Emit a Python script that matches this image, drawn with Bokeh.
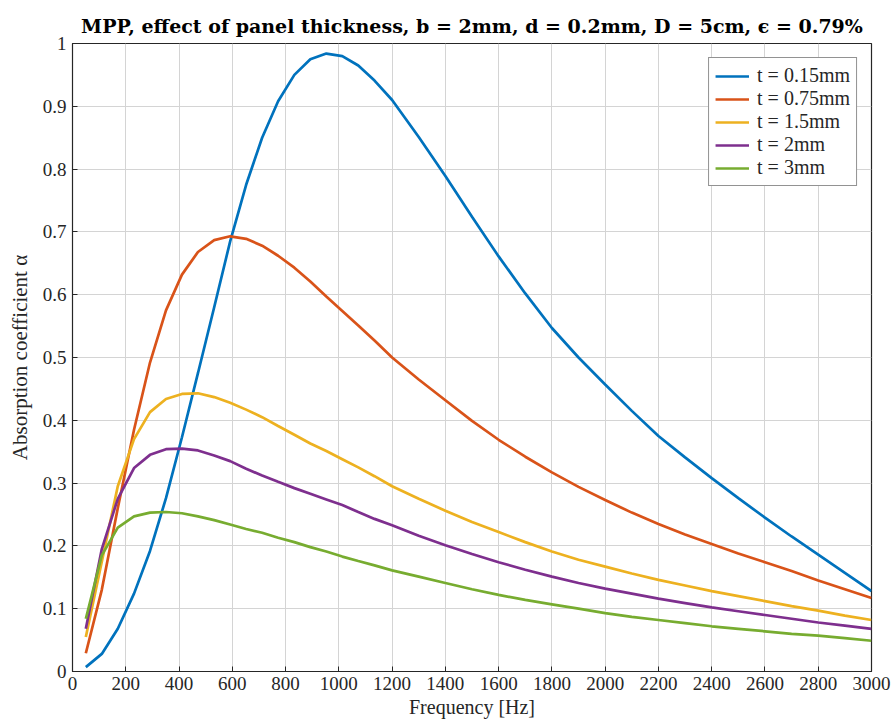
from bokeh.plotting import figure
from bokeh.models import Range1d, FixedTicker, Legend, LegendItem, LinearAxis
from bokeh.embed import file_html
from bokeh.resources import INLINE

freq = [50, 110, 170, 231, 291, 351, 411, 471, 532, 592, 652, 712, 772, 833, 893, 953,
        1013, 1073, 1134, 1200, 1300, 1400, 1500, 1600, 1700, 1800, 1900, 2000, 2100,
        2200, 2300, 2400, 2500, 2600, 2700, 2800, 2900, 3000]

alpha_015 = [0.007, 0.028, 0.068, 0.124, 0.192, 0.276, 0.373, 0.475, 0.580, 0.685, 0.775,
             0.850, 0.908, 0.950, 0.975, 0.984, 0.980, 0.965, 0.941, 0.910, 0.851, 0.789,
             0.724, 0.661, 0.602, 0.547, 0.500, 0.457, 0.415, 0.375, 0.341, 0.308, 0.276,
             0.245, 0.215, 0.186, 0.157, 0.128]
alpha_075 = [0.029, 0.130, 0.260, 0.385, 0.492, 0.575, 0.632, 0.668, 0.687, 0.693, 0.689,
             0.678, 0.662, 0.643, 0.621, 0.597, 0.574, 0.551, 0.527, 0.500, 0.465, 0.432,
             0.399, 0.369, 0.342, 0.317, 0.294, 0.273, 0.253, 0.235, 0.218, 0.203, 0.188,
             0.174, 0.160, 0.145, 0.131, 0.117]
alpha_15 = [0.055, 0.175, 0.295, 0.370, 0.413, 0.434, 0.442, 0.443, 0.437, 0.428, 0.417,
            0.405, 0.391, 0.377, 0.363, 0.351, 0.338, 0.325, 0.311, 0.295, 0.275, 0.256,
            0.238, 0.222, 0.206, 0.191, 0.178, 0.167, 0.156, 0.146, 0.137, 0.128, 0.120,
            0.112, 0.104, 0.097, 0.089, 0.082]
alpha_2 = [0.068, 0.195, 0.275, 0.324, 0.345, 0.354, 0.355, 0.352, 0.344, 0.335, 0.323,
           0.312, 0.302, 0.292, 0.283, 0.274, 0.265, 0.254, 0.243, 0.233, 0.216, 0.201,
           0.187, 0.174, 0.162, 0.151, 0.141, 0.132, 0.124, 0.116, 0.109, 0.102, 0.096,
           0.090, 0.084, 0.078, 0.073, 0.068]
alpha_3 = [0.084, 0.185, 0.229, 0.247, 0.253, 0.254, 0.252, 0.247, 0.241, 0.234, 0.227,
           0.221, 0.213, 0.206, 0.198, 0.191, 0.183, 0.176, 0.169, 0.161, 0.151, 0.141,
           0.131, 0.122, 0.114, 0.107, 0.100, 0.093, 0.087, 0.082, 0.077, 0.072, 0.068,
           0.064, 0.060, 0.057, 0.053, 0.049]

labels = ["t = 0.15mm", "t = 0.75mm", "t = 1.5mm", "t = 2mm", "t = 3mm"]
series = [alpha_015, alpha_075, alpha_15, alpha_2, alpha_3]
colors = ["#0072BD", "#D95319", "#EDB120", "#7E2F8E", "#77AC30"]

x_ticks = list(range(0, 3001, 200))
y_ticks = [0, 0.1, 0.2, 0.3, 0.4, 0.5, 0.6, 0.7, 0.8, 0.9, 1]

FONT = "'Liberation Serif', serif"
TITLE_FONT = "'DejaVu Serif', serif"
TXT = "#262626"

p = figure(width=892, height=726, output_backend="svg", toolbar_location=None,
           x_range=Range1d(0, 3000), y_range=Range1d(0, 1),
           x_axis_location=None, y_axis_location=None,
           min_border_left=72, min_border_right=21, min_border_top=43, min_border_bottom=55,
           title="MPP, effect of panel thickness, b = 2mm, d = 0.2mm, D = 5cm, \u03f5 = 0.79%")

p.title.align = "center"
p.title.vertical_align = "top"
p.title.text_font = TITLE_FONT
p.title.text_font_style = "bold"
p.title.text_font_size = "19px"
p.title.text_color = "#000000"
p.title.standoff = 10

p.outline_line_color = "#262626"
p.outline_line_width = 1.2
p.background_fill_color = "white"
p.border_fill_color = "white"

xaxis = LinearAxis(ticker=FixedTicker(ticks=x_ticks), axis_label="Frequency [Hz]",
                   major_label_text_font=FONT, major_label_text_font_size="19px",
                   major_label_text_color=TXT, major_label_standoff=5,
                   axis_label_text_font=FONT, axis_label_text_font_size="20px",
                   axis_label_text_font_style="normal", axis_label_text_color=TXT,
                   axis_label_standoff=3, major_tick_in=5, major_tick_out=0,
                   minor_tick_line_color=None, axis_line_color="#262626",
                   major_tick_line_color="#262626")
yaxis = LinearAxis(ticker=FixedTicker(ticks=y_ticks), axis_label="Absorption coefficient \u03b1",
                   major_label_overrides={0: "0", 1: "1"},
                   major_label_text_font=FONT, major_label_text_font_size="19px",
                   major_label_text_color=TXT, major_label_standoff=6,
                   axis_label_text_font=FONT, axis_label_text_font_size="21px",
                   axis_label_text_font_style="normal", axis_label_text_color=TXT,
                   axis_label_standoff=8, major_tick_in=5, major_tick_out=0,
                   minor_tick_line_color=None, axis_line_color="#262626",
                   major_tick_line_color="#262626")
p.add_layout(xaxis, "below")
p.add_layout(yaxis, "left")

p.xgrid.ticker = FixedTicker(ticks=x_ticks)
p.ygrid.ticker = FixedTicker(ticks=y_ticks)
p.grid.grid_line_color = "#d4d4d4"
p.grid.grid_line_width = 1

items = []
for lab, ys, c in zip(labels, series, colors):
    r = p.line(freq, ys, line_color=c, line_width=2.7)
    items.append(LegendItem(label=lab, renderers=[r]))

legend = Legend(items=items, location="top_right")
legend.margin = 14
legend.padding = 6
legend.spacing = 0
legend.label_height = 20
legend.glyph_height = 20
legend.glyph_width = 34
legend.label_standoff = 8
legend.label_text_font = FONT
legend.label_text_font_size = "20px"
legend.label_text_color = TXT
legend.border_line_color = "#262626"
legend.border_line_width = 1
legend.background_fill_alpha = 1
p.add_layout(legend, "center")

open("out.html", "w").write(file_html(p, INLINE))
